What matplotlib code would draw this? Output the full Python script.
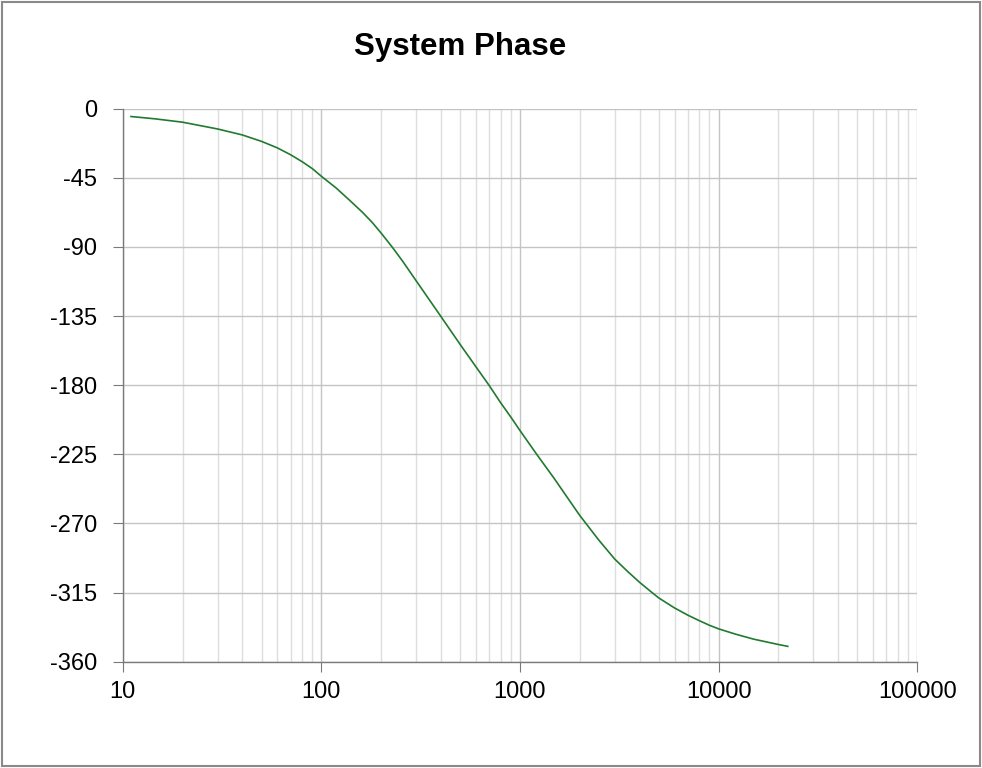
import matplotlib.pyplot as plt
from matplotlib.patches import Rectangle
from matplotlib.ticker import LogLocator, NullFormatter, FixedLocator

plt.rcParams['font.family'] = ['Liberation Sans', 'DejaVu Sans']
plt.rcParams['axes.unicode_minus'] = False

# values
freq = [11, 14.5, 20, 30, 40, 50, 60, 70, 80, 90, 100, 118.6, 138.4, 161.5,
        181, 200, 228.6, 256.6, 300, 400, 500, 600, 700, 800, 900, 1000,
        1214, 1483, 2000, 2500, 3000, 3500, 4000, 4624, 5000, 6000, 7000,
        8000, 9000, 10000, 12130, 15000, 20000, 22300]
phase = [-5.1, -6.6, -8.8, -13.2, -17.1, -21.3, -25.5, -30.0, -34.5, -39.0,
         -44.0, -51.6, -59.5, -67.6, -74.3, -81.0, -90.5, -99.3, -112.0,
         -135.3, -153.5, -168.0, -180.2, -191.5, -200.8, -209.5, -225.0,
         -240.5, -264.8, -281.0, -293.2, -301.5, -308.3, -315.0, -318.5,
         -325.0, -329.7, -333.3, -336.3, -338.6, -342.0, -345.3, -348.8,
         -350.0]
y_ticks = [0, -45, -90, -135, -180, -225, -270, -315, -360]
x_ticks = [10, 100, 1000, 10000, 100000]
x_labels = ['10', '100', '1000', '10000', '100000']

fig = plt.figure(figsize=(9.82, 7.68), dpi=100)
ax = fig.add_axes([0.125, 0.1384, 0.809, 0.7201])

ax.plot(freq, phase, color='#217a2f', linewidth=1.2)

ax.set_xscale('log')
ax.set_xlim(10, 100000)
ax.set_ylim(-360, 0)

ax.xaxis.set_major_locator(FixedLocator(x_ticks))
ax.set_xticklabels(x_labels)
ax.xaxis.set_minor_locator(LogLocator(base=10, subs=range(2, 10)))
ax.xaxis.set_minor_formatter(NullFormatter())
ax.set_yticks(y_ticks)

ax.grid(True, which='major', color='#c4c4c4', linewidth=1.0)
ax.grid(True, which='minor', axis='x', color='#dedede', linewidth=1.0)
ax.set_axisbelow(True)

for s in ['top', 'right']:
    ax.spines[s].set_visible(False)
for s in ['left', 'bottom']:
    ax.spines[s].set_color('#7a7a7a')
    ax.spines[s].set_linewidth(1.0)

ax.tick_params(axis='both', which='major', direction='out', length=7,
               color='#7a7a7a', labelsize=17, labelcolor='black')
ax.tick_params(axis='y', pad=11.5)
ax.tick_params(axis='x', pad=7)
ax.tick_params(axis='x', which='minor', length=0)

fig.text(460 / 982, 1 - 47 / 768, 'System Phase', ha='center', va='center',
         fontsize=22.5, fontweight='bold')

# thin grey frame round the whole picture
fig.patches.append(Rectangle((2 / 982, 2 / 768), 978 / 982, 764 / 768,
                             transform=fig.transFigure, fill=False,
                             edgecolor='#8a8a8a', linewidth=1.5))

fig.savefig('out.png', dpi=100)
